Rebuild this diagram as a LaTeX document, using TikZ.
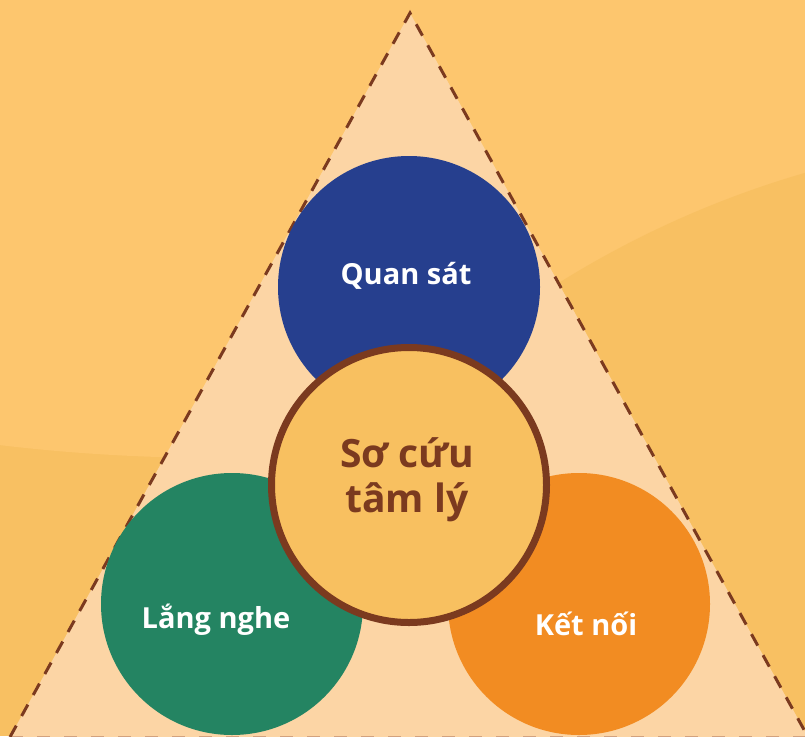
\documentclass[tikz,border=0pt]{standalone}
\usepackage{fontspec}
\setmainfont{Open Sans}
\definecolor{bglight}{HTML}{FDC66E}
\definecolor{bgdark}{HTML}{F8C062}
\definecolor{trifill}{HTML}{FCD5A5}
\definecolor{brown}{HTML}{7B3A1F}
\definecolor{basedash}{HTML}{D3A27E}
\definecolor{cblue}{HTML}{263F8E}
\definecolor{cgreen}{HTML}{248462}
\definecolor{corange}{HTML}{F28C22}
\definecolor{ccenter}{HTML}{F8C060}
\tikzset{
  triedge/.style={draw=brown, line width=3pt, dash pattern=on 13pt off 11pt},
  baseedge/.style={draw=basedash, line width=3pt, dash pattern=on 13pt off 14pt},
  petal/.style={circle, minimum size=262pt, inner sep=0pt},
  petaltext/.style={text=white, font=\bfseries\fontsize{29}{34}\selectfont, anchor=base, inner sep=0pt},
  hubtext/.style={text=brown, font=\bfseries\fontsize{39}{45}\selectfont, anchor=base, inner sep=0pt}
}
\begin{document}
\begin{tikzpicture}[x=1pt,y=-1pt]
\useasboundingbox (0,0) rectangle (805,736);
% background
\begin{scope}
\clip (0,0) rectangle (805,736);
\fill[bgdark] (0,0) rectangle (805,736);
\fill[bglight] (220,0) ellipse [x radius=930pt, y radius=458pt];
\fill[bgdark] (1080,1120) circle [radius=986pt];
\end{scope}
% triangle
\coordinate (apex) at (410,13);
\coordinate (bl) at (10,737);
\coordinate (br) at (808,737);
\fill[trifill] (apex) -- (bl) -- (br) -- cycle;
\draw[baseedge] (bl) -- (br);
\draw[triedge] (bl) -- (apex) -- (br);
% circles
\node[petal, fill=cblue] (top) at (409,287) {};
\node[petal, fill=cgreen] (left) at (232,604) {};
\node[petal, fill=corange] (right) at (579,604) {};
\node[circle, minimum size=275pt, inner sep=0pt, fill=ccenter, draw=brown, line width=7pt] (hub) at (409,485) {};
% labels
\node[petaltext] (ttop) at (406,284) {Quan sát};
\node[petaltext] (tleft) at (216,628) {Lắng nghe};
\node[petaltext] (tright) at (586,635) {Kết nối};
\node[hubtext] (hub1) at (407,467) {Sơ cứu};
\node[hubtext] (hub2) at (407,512) {tâm lý};
\end{tikzpicture}
\end{document}
